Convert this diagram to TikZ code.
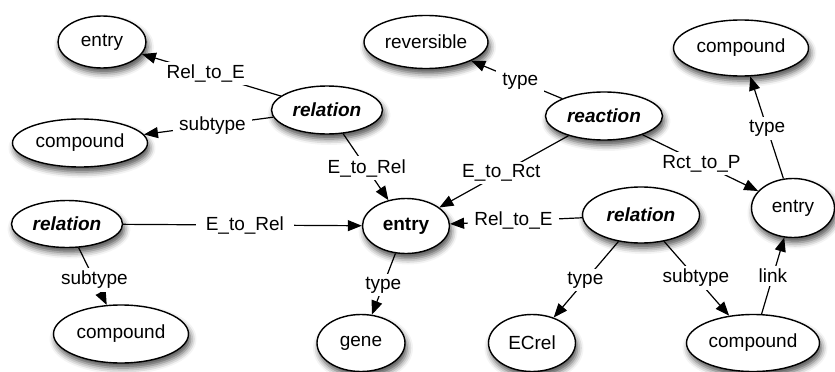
\documentclass[tikz,border=0pt]{standalone}
\usepackage{fontspec}
\setmainfont{Liberation Sans}
\usetikzlibrary{shapes.geometric,arrows.meta,shadows.blur}
\begin{document}
\begin{tikzpicture}[x=1pt,y=-1pt,
  ent/.style={ellipse,draw=black,line width=1.4pt,fill=white,inner sep=0pt,
    font=\fontsize{19}{21}\selectfont,
    blur shadow={shadow xshift=2pt,shadow yshift=-5pt,shadow blur radius=6pt,shadow opacity=70}},
  bi/.style={font=\fontsize{19}{21}\selectfont\bfseries\itshape},
  bo/.style={font=\fontsize{19}{21}\selectfont\bfseries},
  lbl/.style={fill=white,inner xsep=6pt,inner ysep=3pt,font=\fontsize{19}{21}\selectfont},
  edge/.style={line width=1.2pt,-{Triangle[length=14pt,width=11pt]}}
]
\useasboundingbox (0,0) rectangle (835,372);

% nodes
\node[ent,minimum width=88pt,minimum height=52pt]  (e1)   at (102,42)  {entry};
\node[ent,bi,minimum width=111pt,minimum height=48pt] (rel1) at (327,110) {relation};
\node[ent,minimum width=135pt,minimum height=48pt] (c1)   at (80,143)  {compound};
\node[ent,minimum width=124pt,minimum height=53pt] (rev)  at (426,42)  {reversible};
\node[ent,bi,minimum width=117pt,minimum height=48pt] (rct) at (604,116) {reaction};
\node[ent,minimum width=135pt,minimum height=56pt] (c2)   at (741,48)  {compound};
\node[ent,minimum width=83pt,minimum height=59pt]  (er)   at (793,208) {entry};
\node[ent,bo,minimum width=87pt,minimum height=55pt] (ec) at (406,226) {entry};
\node[ent,bi,minimum width=111pt,minimum height=47pt] (rel2) at (67,224) {relation};
\node[ent,minimum width=135pt,minimum height=58pt] (c3)   at (121,334) {compound};
\node[ent,minimum width=88pt,minimum height=57pt]  (gene) at (361,343) {gene};
\node[ent,bi,minimum width=117pt,minimum height=56pt] (rel3) at (641,215) {relation};
\node[ent,minimum width=87pt,minimum height=57pt]  (ecrel) at (532,343) {ECrel};
\node[ent,minimum width=133pt,minimum height=57pt] (c4)   at (753,343) {compound};

% edges
\draw[edge] (rel1) -- node[lbl,pos=0.54] {Rel\_to\_E} (e1);
\draw[edge] (rel1) -- node[lbl,pos=0.47] {subtype} (c1);
\draw[edge] (rel1) -- node[lbl,pos=0.52] {E\_to\_Rel} (ec);
\draw[edge] (rel2) -- node[lbl,pos=0.51,inner xsep=10pt] {E\_to\_Rel} (ec);
\draw[edge] (rel2) -- node[lbl,pos=0.56] {subtype} (c3);
\draw[edge] (ec) -- node[lbl,pos=0.52] {type} (gene);
\draw[edge] (rct) -- node[lbl,pos=0.46] {type} (rev);
\draw[edge] (rct) -- node[lbl,pos=0.52] {E\_to\_Rct} (ec);
\draw[edge] (rct) -- node[lbl,pos=0.51] {Rct\_to\_P} (er);
\draw[edge] (er) -- node[lbl,pos=0.49] {type} (c2);
\draw[edge] (rel3) -- node[lbl,pos=0.52] {Rel\_to\_E} (ec);
\draw[edge] (rel3) -- node[lbl,pos=0.51] {type} (ecrel);
\draw[edge] (rel3) -- node[lbl,pos=0.49] {subtype} (c4);
\draw[edge] (c4) -- node[lbl,pos=0.50] {link} (er);
\end{tikzpicture}
\end{document}
